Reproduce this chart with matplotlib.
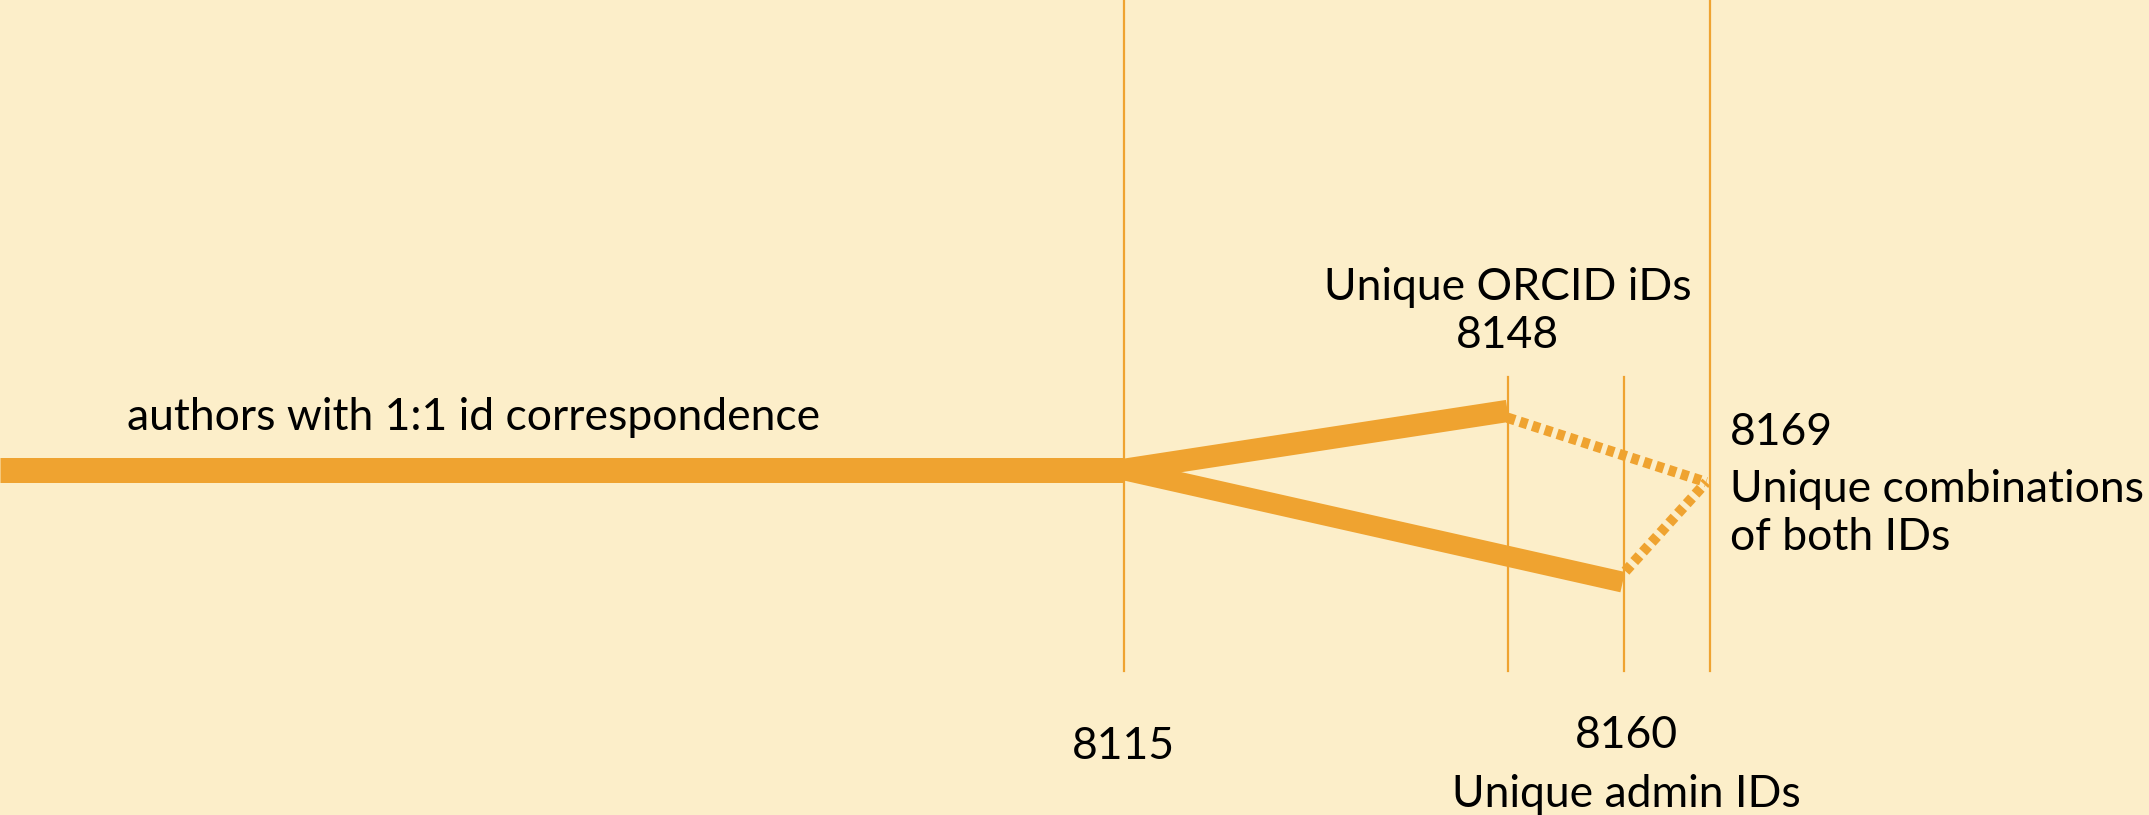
import matplotlib

matplotlib.use("Agg")
import matplotlib.pyplot as plt

# --- data (layout units: x right, y down, 1568 x 595 canvas) ---------------
COUNTS = [8115, 8148, 8160, 8169]
NODE_X = [820, 1100, 1185, 1248]          # where each count sits on the path
TRUNK_X = [0, 820]
TRUNK_Y = [343, 343]
ORCID_X = [820, 1100]
ORCID_Y = [343, 300]
ADMIN_X = [820, 1184]
ADMIN_Y = [343, 425]
MERGE_ORCID_X = [1100, 1245]
MERGE_ORCID_Y = [305, 352]
MERGE_ADMIN_X = [1186, 1245]
MERGE_ADMIN_Y = [417, 352]
GUIDE_TOP = [0, 275, 275, 0]
GUIDE_BOTTOM = 490

LABEL_TRUNK = "authors with 1:1 id correspondence"
LABEL_ORCID = "Unique ORCID iDs"
LABEL_ADMIN = "Unique admin IDs"
LABEL_BOTH = "Unique combinations\nof both IDs"

BG = "#FCEEC9"
ORANGE = "#EFA330"

plt.rcParams["font.family"] = ["Lato", "DejaVu Sans"]

fig = plt.figure(figsize=(21.49, 8.15), dpi=100, facecolor=BG)
ax = fig.add_axes([0, 0, 1, 1])
ax.set_facecolor(BG)
ax.set_xlim(0, 1568)
ax.set_ylim(595, 0)
ax.axis("off")

# thin guide lines at each count
for x, top in zip(NODE_X, GUIDE_TOP):
    ax.plot([x, x], [top, GUIDE_BOTTOM], color=ORANGE, lw=1.6, zorder=1)

# flows
ax.plot(TRUNK_X, TRUNK_Y, color=ORANGE, lw=18, solid_capstyle="butt", zorder=3)
ax.plot(ORCID_X, ORCID_Y, color=ORANGE, lw=16, solid_capstyle="butt", zorder=3)
ax.plot(ADMIN_X, ADMIN_Y, color=ORANGE, lw=15, solid_capstyle="butt", zorder=3)
ax.plot(MERGE_ORCID_X, MERGE_ORCID_Y, color=ORANGE, lw=7.5,
        dashes=(0.75, 0.5), solid_capstyle="butt", zorder=3)
ax.plot(MERGE_ADMIN_X, MERGE_ADMIN_Y, color=ORANGE, lw=7.5,
        dashes=(0.75, 0.5), solid_capstyle="butt", zorder=3)

fs = 32
ax.text(93, 305, LABEL_TRUNK, fontsize=fs, va="center", ha="left")
ax.text(NODE_X[1], 210, LABEL_ORCID, fontsize=fs, va="center", ha="center")
ax.text(NODE_X[1], 245, str(COUNTS[1]), fontsize=fs, va="center", ha="center")
ax.text(NODE_X[0], 545, str(COUNTS[0]), fontsize=fs, va="center", ha="center")
ax.text(1187, 537, str(COUNTS[2]), fontsize=fs, va="center", ha="center")
ax.text(1187, 580, LABEL_ADMIN, fontsize=fs, va="center", ha="center")
ax.text(1262, 316, str(COUNTS[3]), fontsize=fs, va="center", ha="left")
ax.text(1262, 375, LABEL_BOTH, fontsize=fs, va="center", ha="left",
        linespacing=1.2)

fig.savefig("out.png", dpi=100, facecolor=BG)
